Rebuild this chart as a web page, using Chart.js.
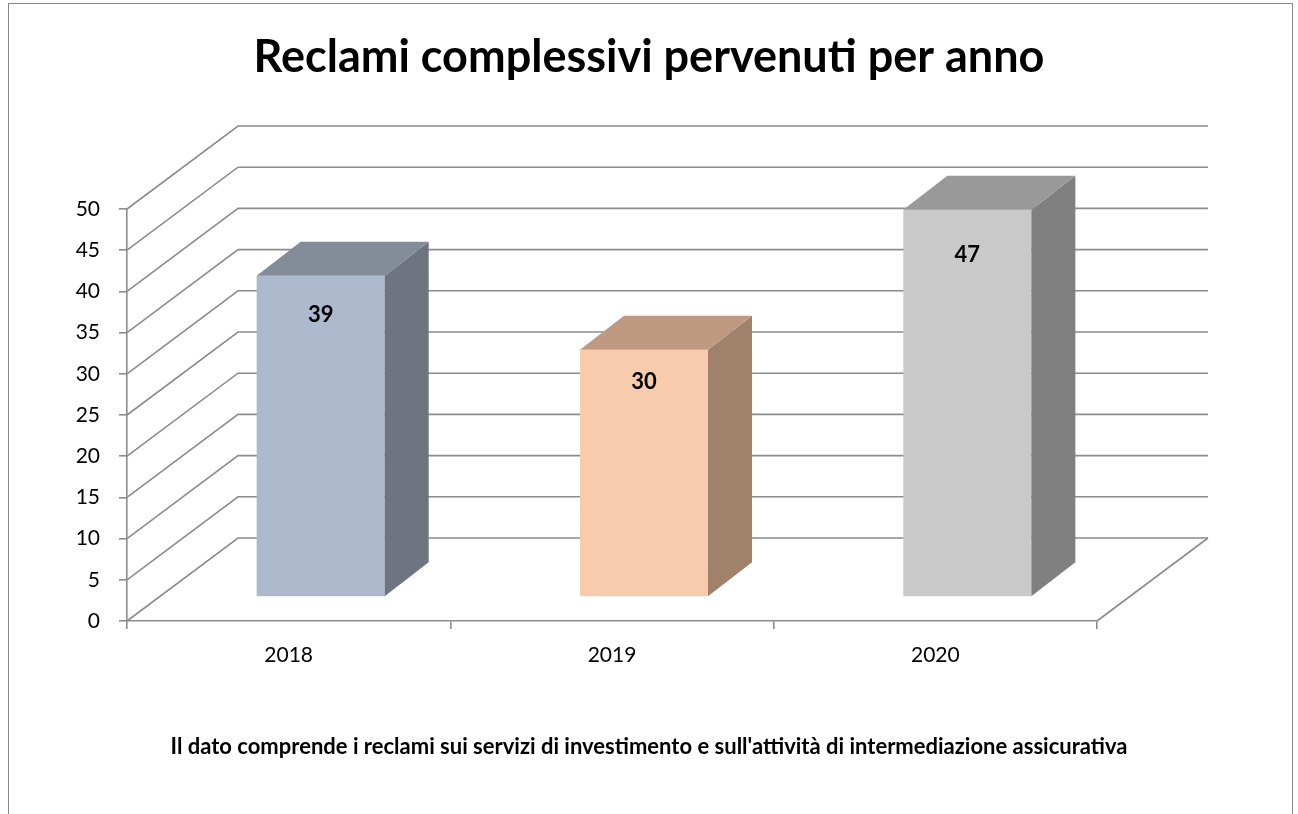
<!DOCTYPE html>
<html lang="it">
<head>
<meta charset="UTF-8">
<title>Reclami complessivi pervenuti per anno</title>
<script src="https://cdn.jsdelivr.net/npm/chart.js"></script>
<style>
  body { margin: 0; background: #fff; }
  canvas { display: block; }
</style>
</head>
<body>
<canvas id="chart" width="1298" height="814"></canvas>
<script>
// dati
const years = ['2018', '2019', '2020'];
const complaints = [39, 30, 47];
const frontColors = ['#adb9cd', '#f8cbad', '#c9c9c9'];
const sideColors = ['#6e7581', '#a0816c', '#808080'];
const topColors = ['#848c99', '#bf9982', '#999999'];
const yTicks = [0, 5, 10, 15, 20, 25, 30, 35, 40, 45, 50];

const FONT = 'Lato, "Open Sans", sans-serif';
const LINE = '#8c8c8c';

// profondità del "3D"
const WALL_DX = 111, WALL_DY = 83;   // parete di fondo
const BAR_FX = 32, BAR_FY = 24;      // spostamento della faccia frontale
const BAR_DX = 44, BAR_DY = 34;      // spessore delle barre

const pseudo3d = {
  id: 'pseudo3d',
  beforeDraw(chart) {
    const ctx = chart.ctx;
    ctx.save();
    ctx.strokeStyle = '#898989';
    ctx.lineWidth = 1;
    ctx.strokeRect(8.5, 3.5, 1284, 900);
    ctx.restore();
  },
  beforeDatasetsDraw(chart) {
    const { ctx, chartArea: a, scales: { y } } = chart;
    ctx.save();
    ctx.strokeStyle = LINE;
    ctx.lineWidth = 1.6;
    y.ticks.forEach(t => {
      const py = y.getPixelForValue(t.value);
      ctx.beginPath();
      ctx.moveTo(a.left, py);
      ctx.lineTo(a.left + WALL_DX, py - WALL_DY);
      ctx.lineTo(a.right + WALL_DX, py - WALL_DY);
      ctx.stroke();
    });
    // bordo destro del pavimento
    ctx.beginPath();
    ctx.moveTo(a.right, a.bottom);
    ctx.lineTo(a.right + WALL_DX, a.bottom - WALL_DY);
    ctx.stroke();
    ctx.restore();
  },
  afterDatasetsDraw(chart) {
    const { ctx, scales: { y } } = chart;
    const meta = chart.getDatasetMeta(0);
    ctx.save();
    meta.data.forEach((bar, i) => {
      const l = bar.x - bar.width / 2 + BAR_FX;
      const r = l + bar.width;
      const t = bar.y - BAR_FY;
      const b = bar.base - BAR_FY;
      // fronte
      ctx.fillStyle = frontColors[i];
      ctx.fillRect(l, t, r - l, b - t);
      // lato
      ctx.fillStyle = sideColors[i];
      ctx.beginPath();
      ctx.moveTo(r, t);
      ctx.lineTo(r + BAR_DX, t - BAR_DY);
      ctx.lineTo(r + BAR_DX, b - BAR_DY);
      ctx.lineTo(r, b);
      ctx.closePath();
      ctx.fill();
      // sopra
      ctx.fillStyle = topColors[i];
      ctx.beginPath();
      ctx.moveTo(l, t);
      ctx.lineTo(l + BAR_DX, t - BAR_DY);
      ctx.lineTo(r + BAR_DX, t - BAR_DY);
      ctx.lineTo(r, t);
      ctx.closePath();
      ctx.fill();
      // etichetta
      const v = complaints[i];
      ctx.fillStyle = '#000';
      ctx.font = 'bold 22px ' + FONT;
      ctx.textAlign = 'center';
      ctx.textBaseline = 'middle';
      ctx.fillText(String(v), (l + r) / 2, y.getPixelForValue(v * 0.904) - 15.5);
    });
    ctx.restore();
  }
};

new Chart(document.getElementById('chart'), {
  type: 'bar',
  data: {
    labels: years,
    datasets: [{
      data: complaints,
      backgroundColor: 'rgba(0,0,0,0)',
      categoryPercentage: 1,
      barPercentage: 0.396
    }]
  },
  options: {
    responsive: false,
    devicePixelRatio: 1,
    animation: false,
    events: [],
    layout: { padding: 0 },
    plugins: {
      legend: { display: false },
      tooltip: { enabled: false },
      title: {
        display: true,
        text: 'Reclami complessivi pervenuti per anno',
        color: '#000',
        font: { family: FONT, size: 45, weight: 'bold', lineHeight: 1.2 },
        padding: { top: 30, bottom: 125 }
      },
      subtitle: {
        display: true,
        position: 'bottom',
        text: "Il dato comprende i reclami sui servizi di investimento e sull'attività di intermediazione assicurativa",
        color: '#000',
        font: { family: FONT, size: 22, weight: 'bold', lineHeight: 1.2 },
        padding: { top: 52.8, bottom: 53.8 }
      }
    },
    scales: {
      x: {
        grid: { display: true, drawOnChartArea: false, drawTicks: true, tickLength: 8, color: LINE, lineWidth: 1.6, offset: true },
        border: { display: true, color: LINE, width: 1.6 },
        ticks: { color: '#000', font: { family: FONT, size: 21 }, padding: 14 },
        afterFit: s => { s.height = 60; }
      },
      y: {
        min: 0,
        max: 50,
        afterBuildTicks: s => { s.ticks = yTicks.map(v => ({ value: v })); },
        grid: { display: true, drawOnChartArea: false, drawTicks: true, tickLength: 8, color: LINE, lineWidth: 1.6 },
        border: { display: true, color: LINE, width: 1.6 },
        ticks: { color: '#000', font: { family: FONT, size: 21 }, padding: 19 },
        afterFit: s => { s.width = 127; }
      },
      // spazio vuoto a destra per la profondità
      spacer: {
        type: 'linear',
        position: 'right',
        display: true,
        grid: { display: false },
        border: { display: false },
        ticks: { display: false },
        afterFit: s => { s.width = 201; }
      }
    }
  },
  plugins: [pseudo3d]
});
</script>
</body>
</html>
